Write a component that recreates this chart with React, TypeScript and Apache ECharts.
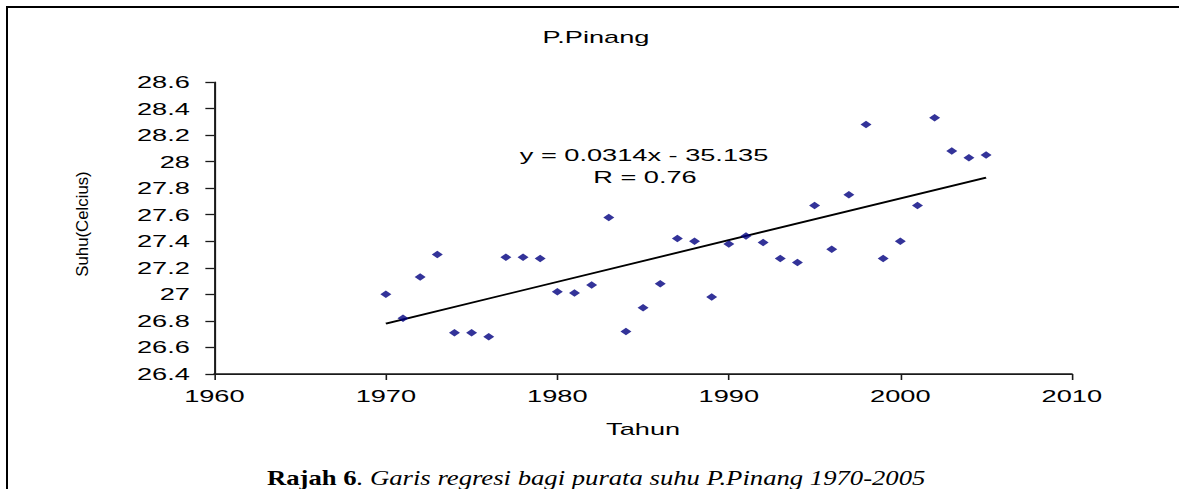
import React, { useEffect, useRef } from "react";
import * as echarts from "echarts";

// ---- data ----
const years = [
  1970, 1971, 1972, 1973, 1974, 1975, 1976, 1977, 1978, 1979,
  1980, 1981, 1982, 1983, 1984, 1985, 1986, 1987, 1988, 1989,
  1990, 1991, 1992, 1993, 1994, 1995, 1996, 1997, 1998, 1999,
  2000, 2001, 2002, 2003, 2004, 2005,
];
const temps = [
  27.0, 26.82, 27.13, 27.3, 26.71, 26.71, 26.68, 27.28, 27.28, 27.27,
  27.02, 27.01, 27.07, 27.58, 26.72, 26.9, 27.08, 27.42, 27.4, 26.98,
  27.38, 27.44, 27.39, 27.27, 27.24, 27.67, 27.34, 27.75, 28.28, 27.27,
  27.4, 27.67, 28.33, 28.08, 28.03, 28.05,
];
const trendYears = [1970, 2005];
const trendValues = [26.78, 27.88];
const xTicks = { min: 1960, max: 2010, interval: 10 };
const yTicks = { min: 26.4, max: 28.6, interval: 0.2 };
const titleText = "P.Pinang";
const xName = "Tahun";
const yName = "Suhu(Celcius)";
const equationText = "y = 0.0314x - 35.135";
const rText = "R = 0.76";
const captionBold = "Rajah 6";
const captionItalic = ". Garis regresi bagi purata suhu P.Pinang 1970-2005";

const W = 1179;
const H = 489;
const CW = 737; // chart width before the horizontal stretch
const S = W / CW;

export default function App() {
  const ref = useRef<HTMLDivElement>(null);

  useEffect(() => {
    if (!ref.current) return;
    const chart = echarts.init(ref.current, undefined, { renderer: "svg", width: CW, height: H });
    const font = "'Liberation Sans', Arial, sans-serif";
    const serif = "'Liberation Serif', 'Times New Roman', serif";
    const axisColor = "#1a1a1a";
    const fs = 17;
    chart.setOption({
      animation: false,
      backgroundColor: "#ffffff",
      grid: {
        left: Math.round(214.5 / S),
        right: CW - Math.round(1072 / S),
        top: 82,
        bottom: 115,
      },
      xAxis: {
        type: "value",
        min: xTicks.min,
        max: xTicks.max,
        interval: xTicks.interval,
        name: xName,
        nameLocation: "middle",
        nameGap: 46,
        nameTextStyle: { color: "#000", fontFamily: font, fontSize: fs },
        axisLine: { show: true, onZero: false, lineStyle: { color: axisColor, width: 1.5 } },
        axisTick: { show: true, length: 6, lineStyle: { color: axisColor, width: 1 } },
        axisLabel: {
          color: "#000",
          fontFamily: font,
          fontSize: fs,
          margin: 13,
          formatter: (v: number) => String(v),
        },
        splitLine: { show: false },
      },
      yAxis: {
        type: "value",
        min: yTicks.min,
        max: yTicks.max,
        interval: yTicks.interval,
        axisLine: { show: true, onZero: false, lineStyle: { color: axisColor, width: 1 } },
        axisTick: { show: true, length: 9 / S, lineStyle: { color: axisColor, width: 1.3 } },
        axisLabel: { color: "#000", fontFamily: font, fontSize: fs, margin: 24.5 / S },
        splitLine: { show: false },
      },
      series: [
        {
          type: "line",
          data: trendYears.map((y, i) => [y, trendValues[i]]),
          symbol: "none",
          lineStyle: { color: "#000", width: 1.8 },
          silent: true,
          z: 2,
        },
        {
          type: "scatter",
          data: years.map((y, i) => [y, temps[i]]),
          symbol: "diamond",
          symbolSize: [11 / S, 7.5],
          itemStyle: { color: "#000080" },
          z: 3,
          markLine: {
            silent: true,
            symbol: "none",
            label: { show: false },
            animation: false,
            lineStyle: { color: axisColor, type: "solid", width: 1.2 },
            data: [{ xAxis: xTicks.min }, { yAxis: yTicks.min }],
          },
        },
      ],
      graphic: [
        {
          type: "text",
          x: 596 / S,
          y: 37,
          style: { text: titleText, fontFamily: font, fontSize: fs, fill: "#000", align: "center", verticalAlign: "middle" },
        },
        {
          type: "text",
          x: 644 / S,
          y: 155,
          style: { text: equationText, fontFamily: font, fontSize: fs, fill: "#000", align: "center", verticalAlign: "middle" },
        },
        {
          type: "text",
          x: 645 / S,
          y: 177,
          style: { text: rText, fontFamily: font, fontSize: fs, fill: "#000", align: "center", verticalAlign: "middle" },
        },
        {
          type: "text",
          x: 83 / S,
          y: 224,
          rotation: Math.PI / 2,
          scaleX: 1.6,
          style: { text: yName, fontFamily: font, fontSize: 10.5, fill: "#000", align: "center", verticalAlign: "middle" },
        },
        {
          type: "text",
          x: 267 / S,
          y: 478,
          scaleX: 1.27 / S,
          style: {
            text: "{b|" + captionBold + "}{i|" + captionItalic + "}",
            align: "left",
            verticalAlign: "middle",
            rich: {
              b: { fontFamily: serif, fontWeight: "bold", fontSize: 21, fill: "#000" },
              i: { fontFamily: serif, fontStyle: "italic", fontSize: 21, fill: "#000" },
            },
          },
        },
      ],
    });
    return () => chart.dispose();
  }, []);

  return (
    <div
      style={{
        position: "fixed",
        left: 0,
        top: 0,
        width: W,
        height: H,
        overflow: "hidden",
        background: "#fff",
      }}
    >
      <div
        ref={ref}
        style={{
          position: "absolute",
          left: 0,
          top: 0,
          width: CW,
          height: H,
          transform: `scaleX(${S})`,
          transformOrigin: "0 0",
        }}
      />
      <div style={{ position: "absolute", left: 6, top: 6, width: W - 6, height: 2, background: "#000" }} />
      <div style={{ position: "absolute", left: 6, top: 6, width: 2, height: H - 6, background: "#000" }} />
    </div>
  );
}
